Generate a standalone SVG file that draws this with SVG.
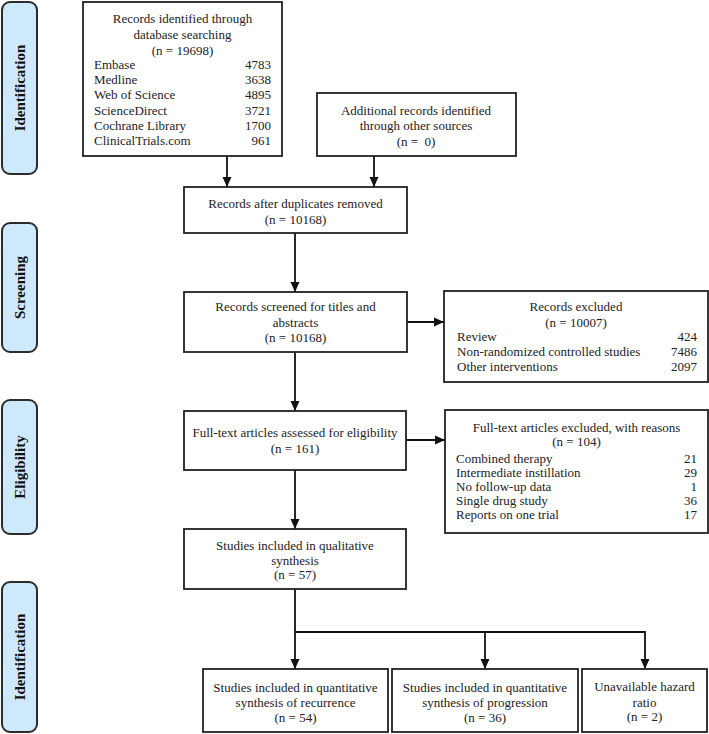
<svg xmlns="http://www.w3.org/2000/svg" width="709" height="734" viewBox="0 0 709 734">
<style>
.lab{fill:#cde9fb;stroke:#2b2b2b;stroke-width:2}
.lt{font-family:"Liberation Serif","Times New Roman",serif;font-weight:bold;font-size:15px;fill:#111;text-anchor:middle}
.box{fill:#fff;stroke:#222;stroke-width:1.8}
.t{font-family:"Liberation Serif","Times New Roman",serif;font-size:13px;fill:#222}
.c{text-anchor:middle}
.r{text-anchor:end}
.pre{white-space:pre}
.con{fill:none;stroke:#111;stroke-width:1.8}
</style>
<defs>
<marker id="ah" markerUnits="userSpaceOnUse" markerWidth="10" markerHeight="10" viewBox="0 0 10 10" refX="10" refY="5" orient="auto">
<path d="M0,0.5 L10,5 L0,9.5 Z" fill="#111"/>
</marker>
</defs>
<rect width="709" height="734" fill="#fff"/>

<g id="label-identification1">
<rect class="lab" x="2" y="2" width="35" height="172" rx="8"/>
<text class="lt" x="25" y="88" transform="rotate(-90 25 88)">Identification</text>
</g>
<g id="label-screening">
<rect class="lab" x="2" y="223" width="35" height="129" rx="8"/>
<text class="lt" x="25" y="287.5" transform="rotate(-90 25 287.5)">Screening</text>
</g>
<g id="label-eligibility">
<rect class="lab" x="2" y="400" width="35" height="134" rx="8"/>
<text class="lt" x="25" y="467" transform="rotate(-90 25 467)">Eligibility</text>
</g>
<g id="label-identification2">
<rect class="lab" x="2" y="582" width="35" height="150" rx="8"/>
<text class="lt" x="25" y="657" transform="rotate(-90 25 657)">Identification</text>
</g>

<g id="connectors">
<path class="con" d="M227,156 V187" marker-end="url(#ah)"/>
<path class="con" d="M374,156 V187" marker-end="url(#ah)"/>
<path class="con" d="M295,233 V292" marker-end="url(#ah)"/>
<path class="con" d="M407,322 H444" marker-end="url(#ah)"/>
<path class="con" d="M295,352 V411" marker-end="url(#ah)"/>
<path class="con" d="M406,440 H445" marker-end="url(#ah)"/>
<path class="con" d="M295,470 V529" marker-end="url(#ah)"/>
<path class="con" d="M295,589 V669" marker-end="url(#ah)"/>
<path class="con" d="M295,632 H645 V669" marker-end="url(#ah)"/>
<path class="con" d="M485,632 V669" marker-end="url(#ah)"/>
</g>

<g id="box-records-identified">
<rect class="box" x="83" y="2" width="199" height="154"/>
<text class="t c" x="182.5" y="23">Records identified through</text>
<text class="t c" x="182.5" y="38.5">database searching</text>
<text class="t c" x="182.5" y="55">(n = 19698)</text>
<text class="t" x="94" y="68.5">Embase</text><text class="t r" x="271" y="68.5">4783</text>
<text class="t" x="94" y="84">Medline</text><text class="t r" x="271" y="84">3638</text>
<text class="t" x="94" y="99">Web of Science</text><text class="t r" x="271" y="99">4895</text>
<text class="t" x="94" y="114.5">ScienceDirect</text><text class="t r" x="271" y="114.5">3721</text>
<text class="t" x="94" y="130">Cochrane Library</text><text class="t r" x="271" y="130">1700</text>
<text class="t" x="94" y="145">ClinicalTrials.com</text><text class="t r" x="271" y="145">961</text>
</g>

<g id="box-additional">
<rect class="box" x="317" y="93" width="199" height="63"/>
<text class="t c" x="416" y="115">Additional records identified</text>
<text class="t c" x="416" y="130">through other sources</text>
<text class="t c pre" x="416" y="146">(n =  0)</text>
</g>

<g id="box-duplicates">
<rect class="box" x="184" y="187" width="223" height="46"/>
<text class="t c" x="295.5" y="208">Records after duplicates removed</text>
<text class="t c" x="295.5" y="224">(n = 10168)</text>
</g>

<g id="box-screened">
<rect class="box" x="184" y="292" width="223" height="60"/>
<text class="t c" x="295.5" y="311">Records screened for titles and</text>
<text class="t c" x="295.5" y="327">abstracts</text>
<text class="t c" x="295.5" y="342">(n = 10168)</text>
</g>

<g id="box-excluded">
<rect class="box" x="444" y="291" width="264" height="91"/>
<text class="t c" x="576" y="311">Records excluded</text>
<text class="t c" x="576" y="327">(n = 10007)</text>
<text class="t" x="457" y="341">Review</text><text class="t r" x="697" y="341">424</text>
<text class="t" x="457" y="356">Non-randomized controlled studies</text><text class="t r" x="697" y="356">7486</text>
<text class="t" x="457" y="371">Other interventions</text><text class="t r" x="697" y="371">2097</text>
</g>

<g id="box-fulltext">
<rect class="box" x="184" y="411" width="222" height="59"/>
<text class="t c" x="295" y="437">Full-text articles assessed for eligibility</text>
<text class="t c" x="295" y="453">(n = 161)</text>
</g>

<g id="box-fulltext-excluded">
<rect class="box" x="445" y="410" width="263" height="123"/>
<text class="t c" x="576.5" y="432">Full-text articles excluded, with reasons</text>
<text class="t c" x="576.5" y="446">(n = 104)</text>
<text class="t" x="456" y="463">Combined therapy</text><text class="t r" x="697" y="463">21</text>
<text class="t" x="456" y="477">Intermediate instillation</text><text class="t r" x="697" y="477">29</text>
<text class="t" x="456" y="491">No follow-up data</text><text class="t r" x="697" y="491">1</text>
<text class="t" x="456" y="505">Single drug study</text><text class="t r" x="697" y="505">36</text>
<text class="t" x="456" y="519">Reports on one trial</text><text class="t r" x="697" y="519">17</text>
</g>

<g id="box-qualitative">
<rect class="box" x="184" y="529" width="222" height="60"/>
<text class="t c" x="295" y="550">Studies included in qualitative</text>
<text class="t c" x="295" y="565">synthesis</text>
<text class="t c" x="295" y="579">(n = 57)</text>
</g>

<g id="box-recurrence">
<rect class="box" x="203" y="669" width="185" height="63"/>
<text class="t c" x="295.5" y="692">Studies included in quantitative</text>
<text class="t c" x="295.5" y="707">synthesis of recurrence</text>
<text class="t c" x="295.5" y="722">(n = 54)</text>
</g>

<g id="box-progression">
<rect class="box" x="392" y="669" width="186" height="63"/>
<text class="t c" x="485" y="692">Studies included in quantitative</text>
<text class="t c" x="485" y="707">synthesis of progression</text>
<text class="t c" x="485" y="722">(n = 36)</text>
</g>

<g id="box-unavailable">
<rect class="box" x="582" y="669" width="125" height="63"/>
<text class="t c" x="644.5" y="691">Unavailable hazard</text>
<text class="t c" x="644.5" y="707">ratio</text>
<text class="t c" x="644.5" y="721">(n = 2)</text>
</g>
</svg>
